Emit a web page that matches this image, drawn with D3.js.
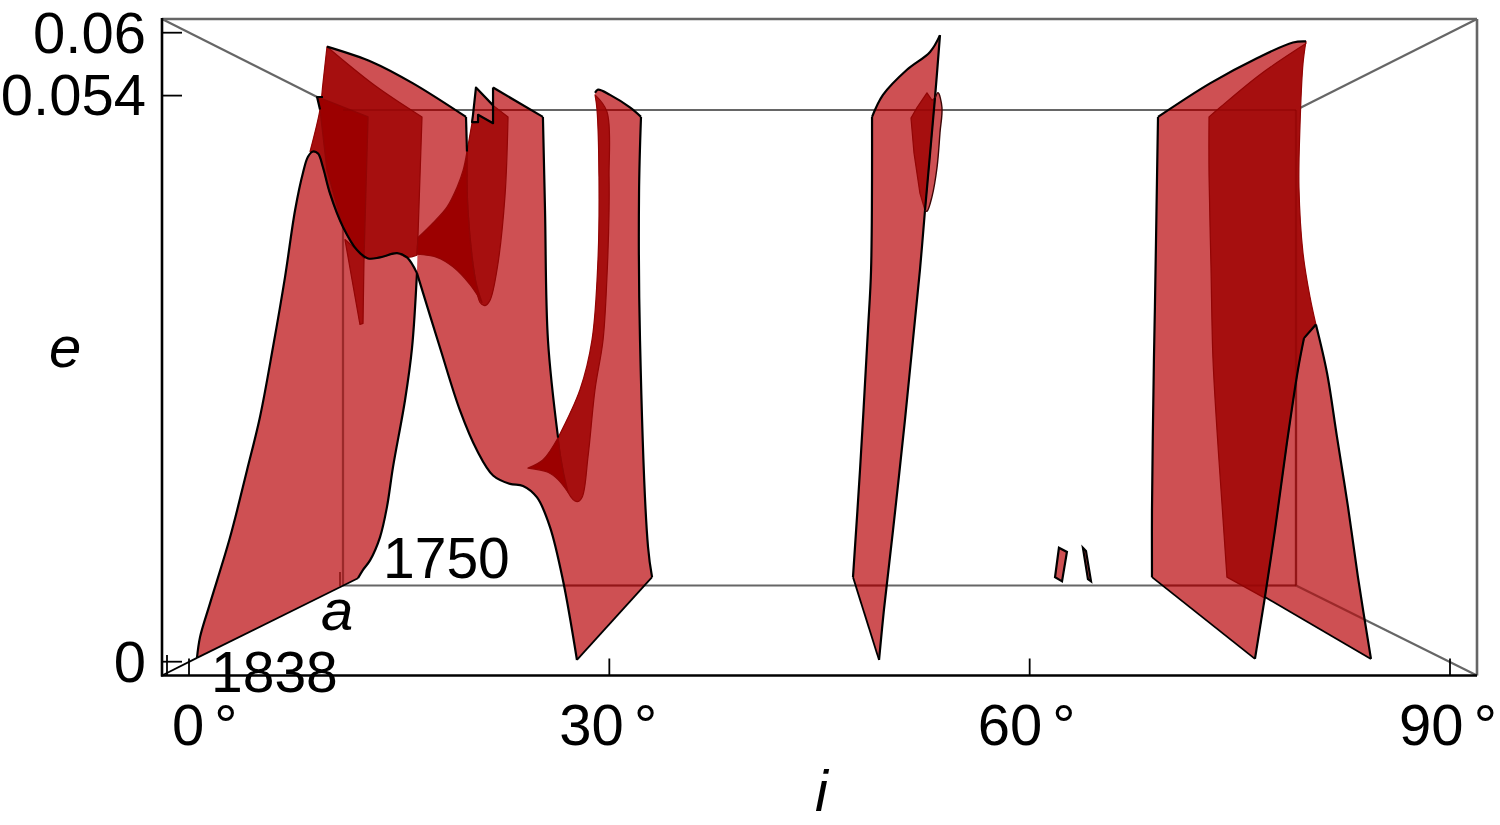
<!DOCTYPE html>
<html><head><meta charset="utf-8">
<script src="https://cdn.jsdelivr.net/npm/d3@7"></script>
<style>html,body{margin:0;padding:0;background:#fff}svg{display:block}text{font-family:"Liberation Sans",Arial,sans-serif;fill:#000}</style>
</head><body><svg id="c" width="1500" height="825"></svg>
<script>
// axis values
const iTicks=[0,30,60,90];
const iTickLabels=["0 °","30 °","60 °","90 °"];
const eTicks=[0,0.054,0.06];
const eTickLabels=["0","0.054","0.06"];
const aTickLabels=["1838","1750"];
const axisNames=["i","e","a"];

// left band
const aUpper=[[.57,.0003],[.79,.0023],[1.50,.0055],[2.93,.0118],[4.14,.0182],[5.07,.0233],[5.99,.0299],[6.85,.0366],[7.57,.0430],[8.14,.0466],[8.49,.0481],[8.85,.0486],[9.21,.0484],[9.56,.0471],[10.06,.0446],[10.99,.0414],[11.99,.0392],[12.78,.0384],[13.63,.0385],[14.85,.0389],[15.56,.0385],[16.27,.0370]];
const aLower=[[16.27,.0370],[15.92,.0299],[15.42,.0249],[14.56,.0185],[14.13,.0147],[13.63,.0118],[12.92,.0096],[12.42,.0087],[12.06,.0079]];
const aBottom=[[12.06,.0079],[.57,.0003]];
// second band
const bLeft=[[16.27,.0370],[17.91,.0299],[19.34,.0239],[20.55,.0201],[21.70,.0177],[22.91,.0169],[23.84,.0167],[24.84,.0156],[25.76,.0128],[26.69,.0077],[27.69,.0001]];
const bFoot=[[27.69,.0001],[33.05,.0080]];
const bRightSide=[[33.05,.0080],[32.76,.0109],[32.19,.0306],[32.12,.0446],[32.26,.0519]];
const bTop=[[32.26,.0519],[31.47,.0528],[30.05,.0540],[29.19,.0545],[28.98,.0542]];
const bGapRight=[[28.98,.0542],[29.12,.0526],[29.26,.0462],[29.19,.0383],[28.76,.0306],[27.91,.0259],[26.34,.0213]];
const bGapLeft=[[26.34,.0213],[25.62,.0306],[25.41,.0430],[25.26,.0519]];
const bShoulder=[[25.26,.0519],[21.70,.0547]];
const zigFill=[[21.70,.0547],[21.70,.0530],[20.48,.0547],[20.27,.0521],[20.20,.0514],[19.84,.0486]];
const zigLine=[[21.70,.0547],[21.70,.0513],[20.63,.0521],[20.63,.0514],[20.20,.0514],[20.27,.0521],[20.48,.0547],[21.70,.0530]];
const sheetInner=[[19.84,.0486],[19.56,.0468],[19.13,.0452],[18.41,.0433],[17.41,.0418],[16.34,.0404]];
const sheetDrop=[[16.34,.0404],[16.27,.0370]];
// upper sheet
const sheetTop=[[9.85,.0586],[13.13,.0571],[15.99,.0551],[19.77,.0519]];
const sheetEnd=[[19.77,.0519],[19.84,.0486]];
const sheetBase=[[16.34,.0404],[16.27,.0387],[10.99,.0414],[9.85,.0586]];
// folds
const foldTop=[[9.85,.0586],[13.27,.0549],[16.63,.0519]];
const foldRight=[[16.63,.0519],[16.34,.0404],[16.27,.0387]];
const foldBase=[[16.27,.0387],[15.56,.0385],[14.85,.0389],[13.63,.0385],[12.78,.0384],[11.99,.0392],[10.99,.0414],[10.06,.0446],[9.56,.0471],[9.21,.0484],[8.64,.0486]];
const foldLeft=[[8.64,.0486],[9.35,.0526],[9.56,.0551],[9.85,.0586]];
const spike=[[11.13,.0402],[12.20,.0321],[12.42,.0322],[12.49,.0384],[11.99,.0392]];
const coreFold=[[9.21,.0538],[12.78,.0519],[12.49,.0384],[11.99,.0392],[10.99,.0414],[9.85,.0468],[9.35,.0526]];
const tipFill=[[9.14,.0538],[9.56,.0538],[9.35,.0526]];
const tipLine=[[9.56,.0538],[9.14,.0538],[9.35,.0526]];
const bowDrop=[[16.34,.0404],[16.27,.0388]];
const bowLower=[[16.27,.0388],[17.70,.0385],[18.84,.0376],[20.06,.0359],[20.91,.0342]];
const bladeInner=[[20.91,.0342],[20.41,.0366],[19.91,.0430],[19.84,.0486]];
const bladeTop=[[19.84,.0486],[20.20,.0513],[20.63,.0514],[20.63,.0521],[21.70,.0513],[21.70,.0530],[22.77,.0519]];
const bladeRight=[[22.77,.0519],[22.55,.0443],[21.98,.0373],[21.48,.0344],[21.13,.0339],[20.77,.0342],[20.41,.0366],[19.91,.0430],[19.84,.0486]];
const bandRight=[[28.98,.0540],[29.83,.0524],[29.98,.0462],[29.98,.0430],[29.83,.0366],[29.55,.0306],[28.98,.0259],[28.48,.0195],[28.05,.0156],[27.69,.0152],[27.05,.0161],[26.62,.0187],[26.34,.0213]];
const bandLeft=[[26.34,.0213],[27.91,.0259],[28.76,.0306],[29.19,.0383],[29.26,.0462],[29.12,.0526],[28.98,.0540]];
const cuspTop=[[24.19,.0184],[25.27,.0192],[26.34,.0213]];
const cuspSide=[[26.34,.0213],[26.62,.0187],[27.05,.0161]];
const cuspBase=[[27.05,.0161],[26.34,.0173],[25.62,.0180],[24.19,.0184]];
// middle band
const cTop=[[53.60,.0597],[52.89,.0581],[51.24,.0564],[49.53,.0540],[48.75,.0519]];
const cLeft=[[48.75,.0519],[48.68,.0373],[48.46,.0316],[47.89,.0182],[47.39,.0080]];
const cBottom=[[47.39,.0080],[49.25,.0001]];
const cRight=[[49.25,.0001],[49.60,.0049],[50.25,.0125],[51.10,.0230],[51.67,.0306],[52.17,.0373],[52.53,.0430],[53.24,.0537],[53.60,.0597]];
const cSmall=[[53.24,.0537],[53.46,.0542],[53.74,.0528],[53.60,.0504],[53.39,.0471],[53.03,.0443],[52.67,.0429],[52.53,.0430]];
const cLeaf=[[52.67,.0542],[53.03,.0535],[53.24,.0537],[52.53,.0430],[52.17,.0446],[51.74,.0485],[51.53,.0518],[51.96,.0528],[52.67,.0542]];
// right band
const eTop=[[79.72,.0591],[78.79,.0590],[76.22,.0575],[72.87,.0551],[69.16,.0519]];
const eLeft=[[69.16,.0519],[69.09,.0462],[69.01,.0395],[68.94,.0338],[68.87,.0289],[68.73,.0144],[68.73,.0080]];
const eBottom=[[68.73,.0080],[76.08,.0002]];
const eRise=[[76.08,.0002],[76.79,.0061]];
const eInner=[[76.79,.0061],[77.51,.0125],[78.36,.0208],[79.15,.0278],[79.58,.0308]];
const eKink=[[79.58,.0308],[80.43,.0321]];
const eDarkRight=[[80.43,.0321],[80.01,.0347],[79.51,.0389],[79.22,.0452],[79.29,.0509],[79.51,.0570],[79.72,.0591]];
const eFootRight=[[80.43,.0321],[81.22,.0275],[81.93,.0214],[82.72,.0147],[83.43,.0080],[84.36,.0002]];
const eFootBase=[[84.36,.0002],[76.79,.0061]];
const eDarkTop=[[79.72,.0589],[76.5,.0560],[73.58,.0528],[72.80,.0519]];
const eDarkLeft=[[72.80,.0519],[72.80,.0464],[72.94,.0376],[73.08,.0289],[73.37,.0220],[73.72,.0151],[74.08,.0080]];
const eDarkBase=[[74.08,.0080],[76.79,.0060]];
// slivers
const sliverA=[[62.09,.0108],[62.66,.0104],[62.31,.0076],[61.81,.0080]];
const sliverB=[[63.80,.0108],[64.02,.0105],[64.38,.0076],[64.16,.0078]];

const LIGHT="#ce5053",DARK="#a60f0f",DEEP="#9c0000",FOLD="#920505",GRID="#666";
const svg=d3.select("#c");
const x=d3.scaleLinear().domain([0,90]).range([189,1450]);
const y=d3.scaleLinear().domain([0,0.06]).range([661,32]);
const straight=new Set([aBottom,bFoot,bShoulder,zigFill,zigLine,sheetDrop,sheetEnd,sheetBase,foldRight,spike,coreFold,tipFill,tipLine,bowDrop,bladeTop,cBottom,eBottom,eRise,eKink,eFootBase,eDarkBase,sliverA,sliverB,cLeaf]);
const lineC=d3.line().x(d=>x(d[0])).y(d=>y(d[1])).curve(d3.curveCatmullRom.alpha(.5));
const lineL=d3.line().x(d=>x(d[0])).y(d=>y(d[1]));
const seg=e=>(straight.has(e)?lineL:lineC)(e);
const poly=(...edges)=>edges.map((e,k)=>k?seg(e).replace(/^M/,"L"):seg(e)).join("")+"Z";

// frame geometry
const F={l:162,r:1477,t:19,b:675.5}, B={l:343,r:1296,t:110,b:585.5};
const backLines=[[B.l,B.t,B.r,B.t],[B.l,B.b,B.r,B.b],[B.l,B.t,B.l,B.b],[B.r,B.t,B.r,B.b],[F.l,F.t,B.l,B.t],[F.r,F.t,B.r,B.t],[F.r,F.b,B.r,B.b]];
const drawLines=(g,arr,color,w,op)=>g.selectAll(null).data(arr).join("line")
  .attr("x1",d=>d[0]).attr("y1",d=>d[1]).attr("x2",d=>d[2]).attr("y2",d=>d[3])
  .attr("stroke",color).attr("stroke-width",w).attr("stroke-opacity",op==null?1:op);

drawLines(svg.append("g"),backLines,GRID,2.2);
drawLines(svg.append("g"),[[F.l,F.t,F.r,F.t],[F.r,F.t,F.r,F.b]],GRID,2.6);

const lights=[
  poly(aUpper,aLower,aBottom),
  poly(bLeft,bFoot,bRightSide,bTop,bGapRight,bGapLeft,bShoulder,zigFill,sheetInner,sheetDrop),
  poly(sheetTop,sheetEnd,sheetInner,sheetBase),
  poly(tipFill),
  poly(cTop,cLeft,cBottom,cRight),
  poly(cSmall),
  poly(eTop,eLeft,eBottom,eRise,eInner,eKink,eDarkRight),
  poly(eInner,eKink,eFootRight,eFootBase),
  poly(sliverA),poly(sliverB)
];
const defs=svg.append("defs");
defs.append("clipPath").attr("id","surf").selectAll("path").data(lights).join("path").attr("d",d=>d);
svg.append("g").selectAll("path").data(lights).join("path").attr("d",d=>d).attr("fill",LIGHT);
drawLines(svg.append("g").attr("clip-path","url(#surf)"),backLines,"#7a0f0f",2.2,.6);

const darks=[
  [poly(foldTop,foldRight,foldBase,foldLeft),DARK],
  [poly(spike),DARK],
  [poly(bladeTop,bladeRight),DARK],
  [poly(bandRight,bandLeft),DARK],
  [poly(cLeaf),DARK],
  [poly(eDarkTop,eDarkLeft,eDarkBase,eInner,eKink,eDarkRight),DARK],
  [poly(coreFold),DEEP],
  [poly(sheetInner,bowDrop,bowLower,bladeInner),DEEP],
  [poly(cuspTop,cuspSide,cuspBase),DEEP]
];
svg.append("g").selectAll("path").data(darks).join("path").attr("d",d=>d[0]).attr("fill",d=>d[1]).attr("stroke",FOLD).attr("stroke-width",1.2).attr("stroke-linejoin","round");
drawLines(svg.append("g").attr("clip-path","url(#surf)"),[[B.l,B.t,B.r,B.t],[B.r,B.t,B.r,B.b],[B.l,B.b,B.r,B.b]],"#8a0000",2.2,.45);

// outlines
const outlines=[aUpper,aLower,bLeft,bRightSide,bTop,bGapLeft,bShoulder,zigLine,sheetTop,sheetEnd,tipLine,cTop,cLeft,cRight,eTop,eLeft,eRise,eInner,eKink,eFootRight];
svg.append("g").selectAll("path").data(outlines).join("path").attr("d",seg).attr("fill","none").attr("stroke","#000").attr("stroke-width",2.2).attr("stroke-linejoin","round");
const thin=[aBottom,bFoot,cBottom,eBottom,eFootBase];
svg.append("g").selectAll("path").data(thin).join("path").attr("d",seg).attr("fill","none").attr("stroke","#000").attr("stroke-width",1.8);
svg.append("g").selectAll("path").data([cSmall]).join("path").attr("d",seg).attr("fill","none").attr("stroke","#3a0606").attr("stroke-width",1.4);
svg.append("g").selectAll("path").data([sliverA,sliverB]).join("path").attr("d",d=>poly(d)).attr("fill","none").attr("stroke","#000").attr("stroke-width",2.2);

// axes
const ax=svg.append("g");
drawLines(ax,[[F.l,F.t-1,F.l,F.b+1],[F.l-1,F.b,F.r,F.b]],"#000",2.6);
drawLines(ax,[[F.l,F.b,x(aBottom[1][0]),y(aBottom[1][1])]],"#000",1.8);
ax.selectAll(null).data(iTicks).join("line").attr("x1",d=>x(d)).attr("x2",d=>x(d)).attr("y1",F.b).attr("y2",F.b-17).attr("stroke","#000").attr("stroke-width",1.8);
ax.selectAll(null).data(eTicks).join("line").attr("x1",F.l).attr("x2",F.l+20).attr("y1",d=>y(d)+.7).attr("y2",d=>y(d)+.7).attr("stroke","#000").attr("stroke-width",1.8);
drawLines(ax,[[167,655,167,675]],"#000",1.8);
drawLines(ax,[[340,572,340,586]],"#8f1a1a",1.8);

const FS=58;
const xLabelShift=[-17,-50,-52,-51];
svg.append("g").selectAll("text").data(iTicks).join("text")
  .attr("x",(d,k)=>x(d)+xLabelShift[k]).attr("y",745).attr("text-anchor","start").attr("word-spacing",-6).attr("font-size",FS).text((d,k)=>iTickLabels[k]);
svg.append("g").selectAll("text").data(eTicks).join("text")
  .attr("x",146).attr("y",d=>y(d)+20.5).attr("text-anchor","end").attr("font-size",FS).text((d,k)=>eTickLabels[k]);
svg.append("text").attr("x",211).attr("y",692).attr("font-size",57).text(aTickLabels[0]);
svg.append("text").attr("x",383).attr("y",578).attr("font-size",57).text(aTickLabels[1]);
svg.append("text").attr("x",815).attr("y",811).attr("font-size",58).attr("font-style","italic").text(axisNames[0]);
svg.append("text").attr("x",49).attr("y",367).attr("font-size",58).attr("font-style","italic").text(axisNames[1]);
svg.append("text").attr("x",321).attr("y",630).attr("font-size",58).attr("font-style","italic").text(axisNames[2]);
</script></body></html>
